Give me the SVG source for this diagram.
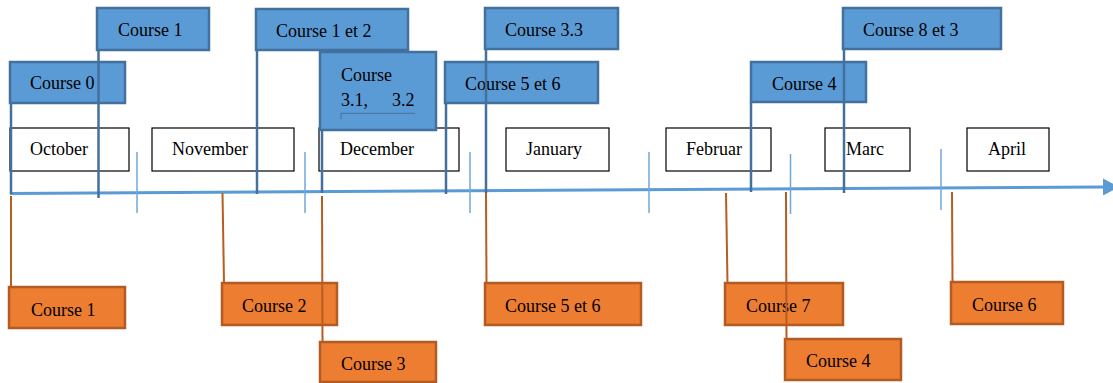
<svg xmlns="http://www.w3.org/2000/svg" width="1113" height="383" viewBox="0 0 1113 383">
<style>
text{font-family:"Liberation Serif","Times New Roman",serif;font-size:18px;fill:#000}
.m{fill:#fff;stroke:#000;stroke-width:1.2}
.b{fill:#5b9bd5;stroke:#41719c;stroke-width:2.5}
.o{fill:#ed7d31;stroke:#b25b22;stroke-width:2.5}
.bc{stroke:#41719c;stroke-width:2.5;fill:none}
.oc{stroke:#b85c20;stroke-width:2;fill:none}
.tk{stroke:#6fa7dc;stroke-width:1.5;fill:none}
.ax{stroke:#5b9bd5;stroke-width:3;fill:none}
</style>
<defs>
<marker id="arr" markerWidth="16" markerHeight="17" refX="0" refY="8.5" orient="auto" markerUnits="userSpaceOnUse">
<path d="M0,0 L16,8.5 L0,17 Z" fill="#5b9bd5"/>
</marker>
</defs>
<g id="months">
<g id="m-oct"><rect class="m" x="10" y="128" width="119" height="43"/><text x="30" y="155">October</text></g>
<g id="m-nov"><rect class="m" x="152" y="128" width="142" height="43"/><text x="172" y="155">November</text></g>
<g id="m-dec"><rect class="m" x="319" y="128" width="140" height="43"/><text x="340" y="155">December</text></g>
<g id="m-jan"><rect class="m" x="506" y="128" width="103" height="43"/><text x="526" y="155">January</text></g>
<g id="m-feb"><rect class="m" x="666" y="128" width="105" height="43"/><text x="686" y="155">Februar</text></g>
<g id="m-mar"><rect class="m" x="825" y="128" width="85" height="43"/><text x="846" y="155">Marc</text></g>
<g id="m-apr"><rect class="m" x="967" y="128" width="82" height="43"/><text x="988" y="155">April</text></g>
</g>
<g id="top">
<g id="b-c0"><rect class="b" x="10" y="62" width="115" height="41"/><text x="30" y="89">Course 0</text></g>
<g id="b-c1"><rect class="b" x="97" y="8" width="112" height="42"/><text x="118" y="36">Course 1</text></g>
<g id="b-c12"><rect class="b" x="256" y="9" width="152" height="41"/><text x="276" y="37">Course 1 et 2</text></g>
<g id="b-c31"><rect class="b" x="320" y="52" width="116" height="78"/><text x="341" y="81">Course</text><text y="106"><tspan x="341">3.1,</tspan><tspan x="392">3.2</tspan></text><path d="M341,119 V113.3 H415" stroke="#3f6690" stroke-width="0.8" fill="none"/></g>
<g id="b-c56"><rect class="b" x="445" y="62" width="153" height="41"/><text x="465" y="90">Course 5 et 6</text></g>
<g id="b-c33"><rect class="b" x="485" y="8" width="133" height="41"/><text x="505" y="36">Course 3.3</text></g>
<g id="b-c4"><rect class="b" x="751" y="62" width="115" height="40"/><text x="772" y="90">Course 4</text></g>
<g id="b-c83"><rect class="b" x="843" y="8" width="158" height="41"/><text x="863" y="36">Course 8 et 3</text></g>
</g>
<g id="bottom">
<g id="o-c1"><rect class="o" x="9" y="287" width="116" height="41"/><text x="31" y="316">Course 1</text></g>
<g id="o-c2"><rect class="o" x="222" y="283" width="115" height="42"/><text x="242" y="312">Course 2</text></g>
<g id="o-c3"><rect class="o" x="320" y="342" width="116" height="40"/><text x="341" y="370">Course 3</text></g>
<g id="o-c56"><rect class="o" x="485" y="283" width="156" height="42"/><text x="505" y="312">Course 5 et 6</text></g>
<g id="o-c7"><rect class="o" x="725" y="283" width="118" height="42"/><text x="746" y="312">Course 7</text></g>
<g id="o-c4"><rect class="o" x="785" y="339" width="116" height="41"/><text x="806" y="367">Course 4</text></g>
<g id="o-c6"><rect class="o" x="951" y="282" width="112" height="42"/><text x="972" y="311">Course 6</text></g>
</g>
<g id="connectors">
<line class="ax" x1="10" y1="193.5" x2="1103" y2="187" marker-end="url(#arr)"/>
<line class="tk" x1="137" y1="152" x2="137" y2="213"/>
<line class="tk" x1="305" y1="152" x2="305" y2="213"/>
<line class="tk" x1="470" y1="152" x2="470" y2="213"/>
<line class="tk" x1="649" y1="152" x2="649" y2="213"/>
<line class="tk" x1="790.5" y1="154" x2="790.5" y2="214"/>
<line class="tk" x1="941" y1="149" x2="941" y2="210"/>
<line class="bc" x1="11" y1="103" x2="11" y2="194"/>
<line class="bc" x1="98.5" y1="50" x2="98.5" y2="198"/>
<line class="bc" x1="257" y1="50" x2="257" y2="194"/>
<line class="bc" x1="322" y1="130" x2="322" y2="193"/>
<line class="bc" x1="446" y1="103" x2="446" y2="194"/>
<line class="bc" x1="486" y1="49" x2="486" y2="193"/>
<line class="bc" x1="751" y1="102" x2="751" y2="192"/>
<line class="bc" x1="844" y1="49" x2="844" y2="193"/>
<line class="oc" x1="11" y1="196" x2="11" y2="287"/>
<line class="oc" x1="222.5" y1="193" x2="224" y2="283"/>
<line class="oc" x1="322" y1="196" x2="322.5" y2="342"/>
<line class="oc" x1="486" y1="193" x2="486.5" y2="283"/>
<line class="oc" x1="726" y1="193" x2="727.5" y2="283"/>
<line class="oc" x1="786" y1="192" x2="786.5" y2="339"/>
<line class="oc" x1="952" y1="192" x2="952.5" y2="282"/>
</g>
</svg>
